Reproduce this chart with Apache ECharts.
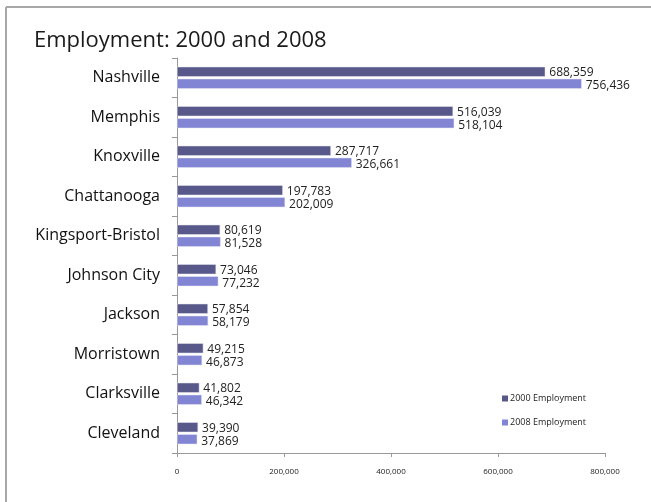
<!DOCTYPE html>
<html>
<head>
<meta charset="utf-8">
<script src="https://cdn.jsdelivr.net/npm/echarts@6/dist/echarts.min.js"></script>
<style>html,body{margin:0;padding:0;background:#fff}#c{width:651px;height:502px}</style>
</head>
<body>
<div id="c"></div>
<script>
const cities = ['Nashville','Memphis','Knoxville','Chattanooga','Kingsport-Bristol','Johnson City','Jackson','Morristown','Clarksville','Cleveland'];
const emp2000 = [688359,516039,287717,197783,80619,73046,57854,49215,41802,39390];
const emp2008 = [756436,518104,326661,202009,81528,77232,58179,46873,46342,37869];
const xTicks = [0,200000,400000,600000,800000];

const FONT = 'Open Sans';
const fmt = v => v.toLocaleString('en-US');
const chart = echarts.init(document.getElementById('c'), null, {renderer:'canvas'});
chart.setOption({
  animation:false,
  textStyle:{fontFamily:FONT},
  title:{text:'Employment: 2000 and 2008', left:29, top:25, textStyle:{fontFamily:FONT, fontSize:22, fontWeight:'normal', color:'#1a1a1a'}},
  graphic:[
    {type:'line', shape:{x1:6,y1:7,x2:651,y2:7}, style:{stroke:'#a8a8a8', lineWidth:2}},
    {type:'line', shape:{x1:6,y1:7,x2:6,y2:502}, style:{stroke:'#a8a8a8', lineWidth:2}}
  ],
  legend:{orient:'vertical', left:497, top:389, itemWidth:6, itemHeight:6, itemGap:15,
    itemStyle:{borderWidth:0},
    textStyle:{fontSize:9, color:'#222', fontFamily:FONT, padding:[0,0,0,-3]}, icon:'rect',
    data:['2000 Employment','2008 Employment']},
  grid:{left:177, right:46, top:58, bottom:49, containLabel:false},
  xAxis:{type:'value', min:xTicks[0], max:xTicks[xTicks.length-1], interval:200000,
    axisLine:{show:true, lineStyle:{color:'#999', width:1}},
    axisTick:{show:true, length:4, lineStyle:{color:'#999'}},
    splitLine:{show:false},
    axisLabel:{fontSize:8, color:'#222', margin:15, formatter:v=>fmt(v)}},
  yAxis:{type:'category', inverse:true, data:cities,
    axisLine:{show:true, lineStyle:{color:'#999'}},
    axisTick:{show:true, length:5, lineStyle:{color:'#999'}},
    axisLabel:{fontSize:16, color:'#111', margin:17}},
  series:[
    {name:'2000 Employment', type:'bar', data:emp2000, barWidth:10, barGap:'20%',
      itemStyle:{color:'#58598a', borderColor:'#e4e4ee', borderWidth:0.5},
      label:{show:true, position:'right', distance:4, offset:[0,1], fontSize:12, color:'#222', formatter:p=>fmt(p.value)}},
    {name:'2008 Employment', type:'bar', data:emp2008, barWidth:10,
      itemStyle:{color:'#8284d4', borderColor:'#e4e4f4', borderWidth:0.5},
      label:{show:true, position:'right', distance:4, offset:[0,2], fontSize:12, color:'#222', formatter:p=>fmt(p.value)}}
  ]
});
</script>
</body>
</html>
